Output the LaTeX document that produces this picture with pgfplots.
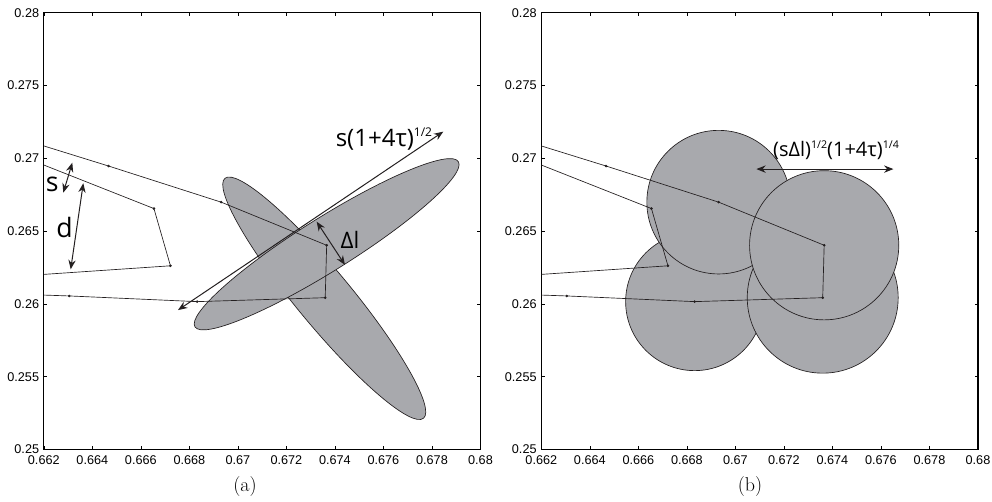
\documentclass[border=0pt]{standalone}
\usepackage{pgfplots}
\usepackage{pgfplotstable}
\pgfplotsset{compat=1.18}
\usetikzlibrary{arrows.meta}
\usepackage{fontspec}
\newfontfamily\arial{Liberation Sans}
\newfontfamily\myriad{Open Sans}
\definecolor{shapefill}{RGB}{168,169,173}
\definecolor{edge}{RGB}{35,31,32}

\pgfplotstableread{
x y
0.662 0.27085
0.66467 0.26947
0.66931 0.26699
0.67366 0.26403
0.67360 0.26043
0.66832 0.26016
0.66305 0.26055
0.662 0.26061
}\pathone
\pgfplotstableread{
x y
0.662 0.26954
0.66654 0.26655
0.66722 0.26262
0.662 0.26203
}\pathtwo

\pgfplotsset{panel/.style={
  scale only axis, width=327.5pt, height=327.7pt,
  xmin=0.662, xmax=0.68, ymin=0.25, ymax=0.28,
  xtick={0.662,0.664,0.666,0.668,0.67,0.672,0.674,0.676,0.678,0.68},
  xticklabels={0.662,0.664,0.666,0.668,0.67,0.672,0.674,0.676,0.678,0.68},
  ytick={0.25,0.255,0.26,0.265,0.27,0.275,0.28},
  yticklabels={0.25,0.255,0.26,0.265,0.27,0.275,0.28},
  scaled ticks=false,
  tick align=inside, major tick length=2.6pt,
  tick style={line width=0.45pt, black},
  axis line style={line width=1pt},
  ticklabel style={font=\arial\fontsize{9.5}{11}\selectfont},
  xticklabel style={yshift=-1pt},
  clip=true,
  anchor=south west,
}}
\tikzset{
  blob/.style={fill=shapefill, draw=edge, line width=0.5pt},
  pline/.style={edge, line width=0.5pt, mark=*, mark size=0.7pt, mark options={fill=edge, draw=edge}},
  dar/.style={edge, line width=0.75pt, {Stealth[length=7pt,width=5.5pt]}-{Stealth[length=7pt,width=5.5pt]}},
}

\begin{document}
\begin{tikzpicture}
\path[use as bounding box] (0,0) rectangle (744pt,375.75pt);

% ---------------- panel (a)
\begin{axis}[panel, at={(32.85pt,38.55pt)}]
\draw[blob, shift={(axis cs:0.67356,0.26039)}, rotate=-50.4] (0pt,0pt) ellipse [x radius=116.8pt, y radius=20.6pt];
\draw[blob, shift={(axis cs:0.67366,0.26410)}, rotate=32.1] (0pt,0pt) ellipse [x radius=116.6pt, y radius=19.9pt];
\addplot[pline, mark indices={2,3,4,5,6,7}] table {\pathone};
\addplot[pline, mark indices={2,3}] table {\pathtwo};
\draw[dar] (axis cs:0.663175,0.2697) -- (axis cs:0.662804,0.26764);
\draw[dar] (axis cs:0.663628,0.26829) -- (axis cs:0.663109,0.26238);
\draw[dar] (axis cs:0.673248,0.26565) -- (axis cs:0.674415,0.26268);
\draw[dar] (axis cs:0.678467,0.27183) -- (axis cs:0.667532,0.25958);
\node[font=\myriad\fontsize{20}{20}\selectfont, inner sep=0pt] at (axis cs:0.66235,0.26822) {s};
\node[font=\myriad\fontsize{20}{20}\selectfont, inner sep=0pt] at (axis cs:0.66285,0.26525) {d};
\node[font=\myriad\fontsize{17}{17}\selectfont, inner sep=0pt] at (axis cs:0.67462,0.26439) {Δl};
\node[font=\myriad\fontsize{18}{18}\selectfont, inner sep=0pt] at (axis cs:0.67602,0.27133) {s(1+4τ)\raisebox{0.75ex}{\fontsize{9}{9}\selectfont 1/2}};
\end{axis}

% ---------------- panel (b)
\begin{axis}[panel, at={(405.98pt,38.55pt)}]
\draw[blob] (axis cs:0.66832,0.26016) circle [radius=51.75pt];
\draw[blob] (axis cs:0.66931,0.26699) circle [radius=53.85pt];
\draw[blob] (axis cs:0.67360,0.26043) circle [radius=56.6pt];
\draw[blob] (axis cs:0.67366,0.26403) circle [radius=55.95pt];
\addplot[pline, mark indices={2,3,4,5,6,7}] table {\pathone};
\addplot[pline, mark indices={2,3}] table {\pathtwo};
\draw[dar] (axis cs:0.670864,0.26926) -- (axis cs:0.676514,0.26926);
\node[font=\myriad\fontsize{15}{15}\selectfont, inner sep=0pt] at (axis cs:0.674148,0.27056) {(sΔl)\raisebox{0.75ex}{\fontsize{8}{8}\selectfont 1/2}(1+4τ)\raisebox{0.75ex}{\fontsize{8}{8}\selectfont 1/4}};
\end{axis}

\node[font=\fontsize{15}{18}\selectfont] at (183.75pt,10.5pt) {(a)};
\node[font=\fontsize{15}{18}\selectfont] at (562.5pt,10.5pt) {(b)};
\end{tikzpicture}
\end{document}
